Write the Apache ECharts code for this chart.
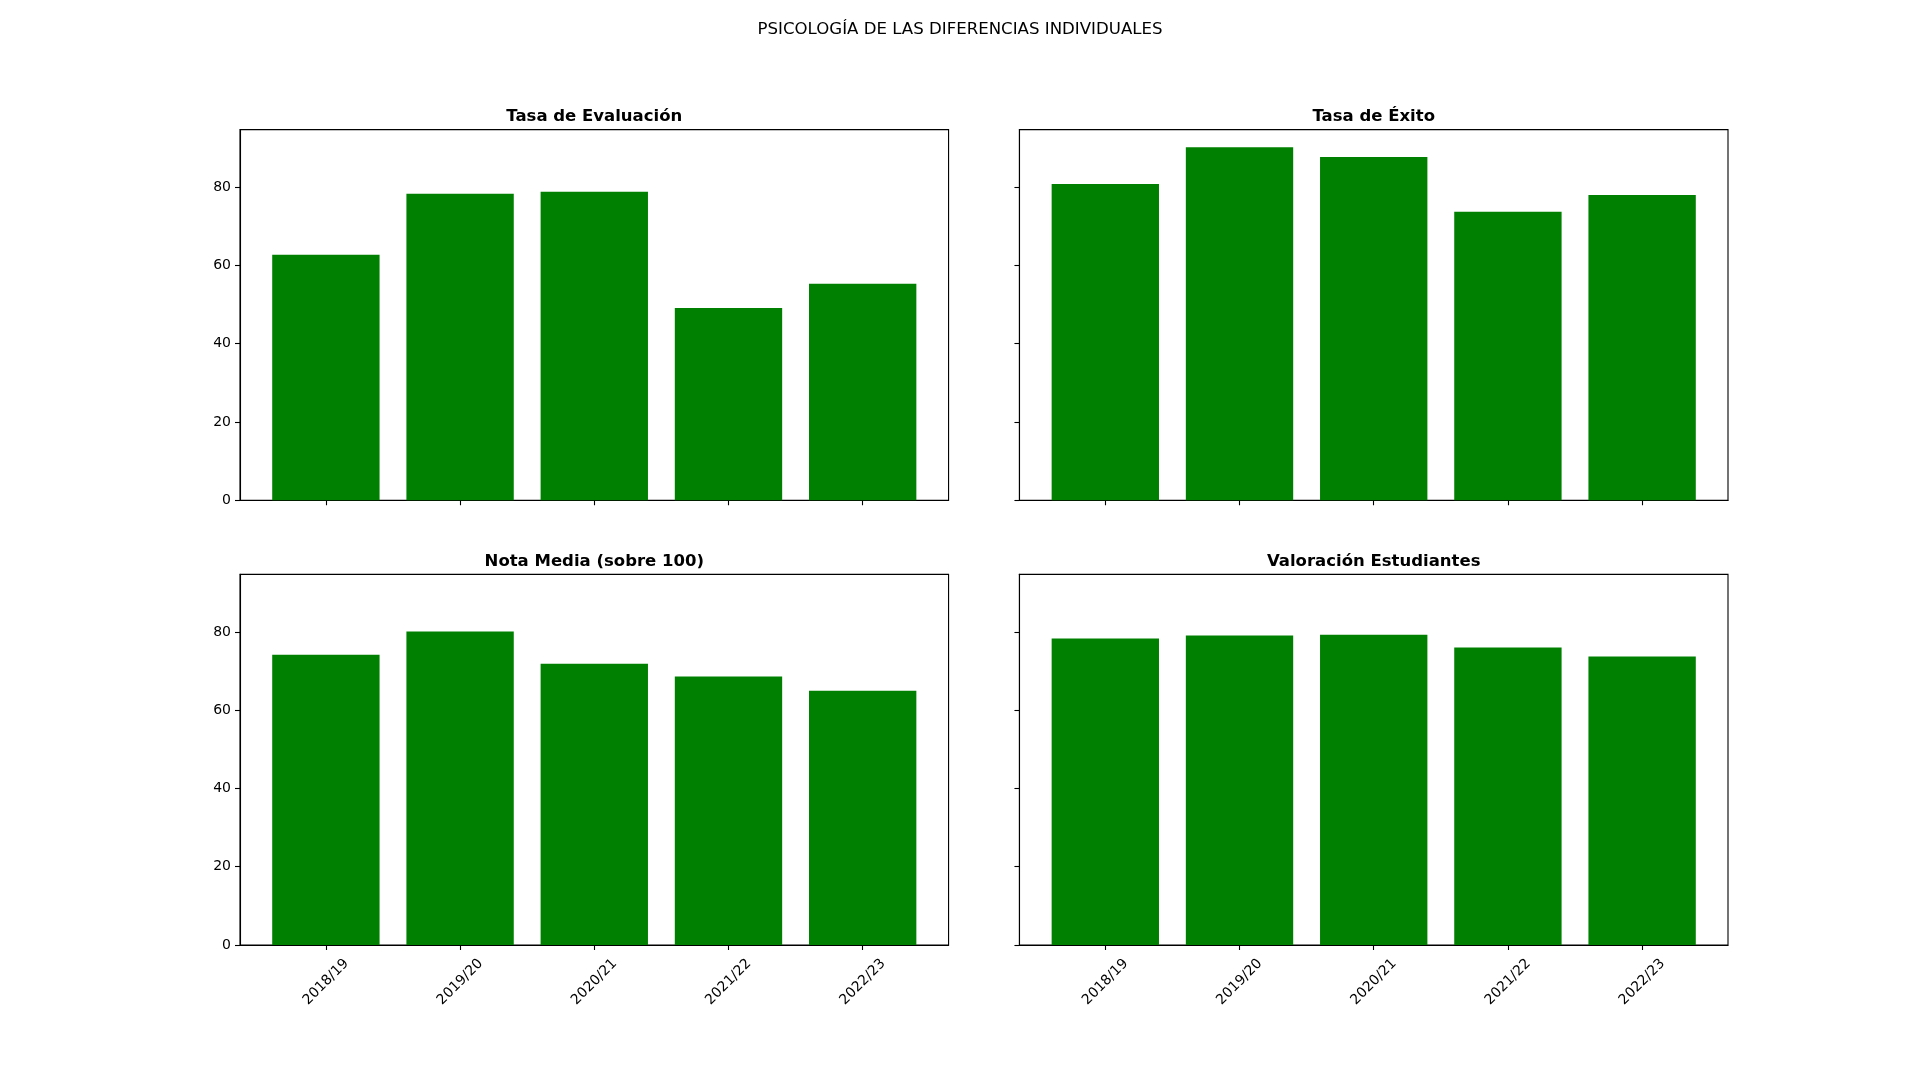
<!DOCTYPE html>
<html>
<head>
<meta charset="utf-8">
<script src="https://cdn.jsdelivr.net/npm/echarts@6/dist/echarts.min.js"></script>
<style>html,body{margin:0;padding:0;background:#fff}#c{width:1920px;height:1080px}</style>
</head>
<body>
<div id="c"></div>
<script>
const categories = ['2018/19', '2019/20', '2020/21', '2021/22', '2022/23'];
const tasaEvaluacion = [62.7, 78.3, 78.8, 49.1, 55.3];
const tasaExito = [80.8, 90.2, 87.7, 73.7, 78.0];
const notaMedia = [74.2, 80.1, 71.9, 68.6, 65.0];
const valoracion = [78.3, 79.1, 79.3, 76.0, 73.7];
const panelTitles = ['Tasa de Evaluación', 'Tasa de Éxito', 'Nota Media (sobre 100)', 'Valoración Estudiantes'];
const yTicks = [0, 20, 40, 60, 80];
const mainTitle = 'PSICOLOGÍA DE LAS DIFERENCIAS INDIVIDUALES';

const panels = [tasaEvaluacion, tasaExito, notaMedia, valoracion];
const FONT = 'DejaVu Sans';
const yMax = Math.max(...panels.flat()) * 1.05;
const xMin = -0.4 - 0.05 * (categories.length - 1 + 0.8);
const xMax = categories.length - 1 + 0.4 + 0.05 * (categories.length - 1 + 0.8);

const W = 1920, H = 1080;
const L = 0.125 * W, R = 0.9 * W, T = 0.12 * H, B = 0.875 * H;
const wsp = 0.1, hsp = 0.2;
const aw = (R - L) / (2 + wsp), ah = (B - T) / (2 + hsp);
const rects = [];
for (let r = 0; r < 2; r++) for (let c = 0; c < 2; c++) {
  rects.push({ x: L + c * aw * (1 + wsp), y: T + r * ah * (1 + hsp), w: aw, h: ah });
}
const barW = 0.8 / (xMax - xMin) * aw;

const grid = [], xAxis = [], yAxis = [], series = [], title = [];
title.push({ text: mainTitle, left: W / 2, top: 21, textAlign: 'center', padding: 0,
  textStyle: { fontFamily: FONT, fontSize: 16.6, fontWeight: 'normal', color: '#000' } });
rects.forEach((g, i) => {
  grid.push({ left: g.x, top: g.y, width: g.w, height: g.h, show: true,
    borderColor: '#000', borderWidth: 1.1, backgroundColor: 'transparent', containLabel: false });
  const bottomRow = i >= 2, leftCol = i % 2 === 0;
  xAxis.push({ type: 'value', gridIndex: i, min: xMin, max: xMax,
    axisLine: { show: true, onZero: false, lineStyle: { color: '#000', width: 1.1 } },
    axisTick: { show: true, length: 5, customValues: categories.map((_, k) => k), lineStyle: { color: '#000', width: 1.1 } },
    axisLabel: { show: bottomRow, customValues: categories.map((_, k) => k),
      formatter: v => categories[Math.round(v)] || '',
      rotate: 45, align: 'center', verticalAlign: 'middle', margin: 37,
      fontFamily: FONT, fontSize: 14, color: '#000' },
    splitLine: { show: false } });
  yAxis.push({ type: 'value', gridIndex: i, min: 0, max: yMax,
    axisLine: { show: true, onZero: false, lineStyle: { color: '#000', width: 1.1 } },
    axisTick: { show: true, length: 5, customValues: yTicks, lineStyle: { color: '#000', width: 1.1 } },
    axisLabel: { show: leftCol, customValues: yTicks, margin: 9,
      fontFamily: FONT, fontSize: 14, color: '#000' },
    splitLine: { show: false } });
  series.push({ type: 'bar', xAxisIndex: i, yAxisIndex: i, barWidth: barW,
    itemStyle: { color: '#008000' }, silent: true, animation: false,
    data: panels[i].map((v, k) => [k, v]) });
  title.push({ text: panelTitles[i], left: g.x + g.w / 2, top: g.y - 21, textAlign: 'center', padding: 0,
    textStyle: { fontFamily: FONT, fontSize: 16.5, fontWeight: 'bold', color: '#000' } });
});

const chart = echarts.init(document.getElementById('c'), null, { renderer: 'canvas' });
chart.setOption({ backgroundColor: '#fff', animation: false, title, grid, xAxis, yAxis, series });
</script>
</body>
</html>
